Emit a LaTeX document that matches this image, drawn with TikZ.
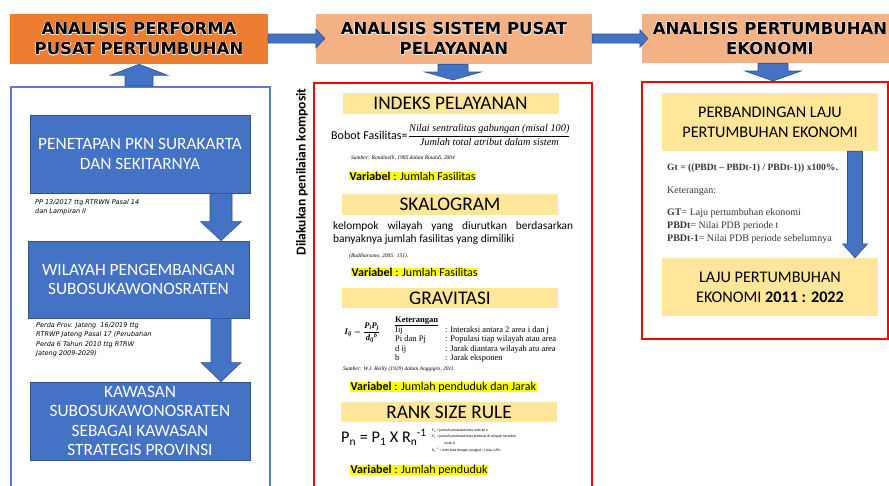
\documentclass[tikz,border=0pt]{standalone}
\usepackage{fontspec}
\usepackage{amsmath}
\usepackage[copies]{contour}
\usetikzlibrary{calc}
\setmainfont{Carlito}
\newfontfamily\hdrfont{DejaVu Sans}
\newfontfamily\timesf{Liberation Serif}
\definecolor{orangeA}{HTML}{ED7D31}
\definecolor{orangeB}{HTML}{F4B183}
\definecolor{blueA}{HTML}{4472C4}
\definecolor{blueB}{HTML}{2F528F}
\definecolor{yellowB}{HTML}{FFE699}
\definecolor{hlyellow}{HTML}{FFFF00}
\definecolor{redA}{HTML}{FF0000}
\definecolor{glow}{HTML}{F5E6DA}
\contourlength{0.4pt}
\contournumber{16}
\newcommand\darr[6]{\path[blk] let \p1=(#2),\p2=(#3) in
  (#1pt-#4pt,\y1) -- (#1pt+#4pt,\y1) -- (#1pt+#4pt,\y2+#6pt) -- (#1pt+#5pt,\y2+#6pt)
  -- (#1pt,\y2) -- (#1pt-#5pt,\y2+#6pt) -- (#1pt-#4pt,\y2+#6pt) -- cycle;}
\newcommand\uarr[6]{\path[blk] let \p1=(#2),\p2=(#3) in
  (#1pt-#4pt,\y1) -- (#1pt+#4pt,\y1) -- (#1pt+#4pt,\y2-#6pt) -- (#1pt+#5pt,\y2-#6pt)
  -- (#1pt,\y2) -- (#1pt-#5pt,\y2-#6pt) -- (#1pt-#4pt,\y2-#6pt) -- cycle;}
\newcommand\rarr[6]{\path[blk] let \p1=(#2),\p2=(#3) in
  (\x1,-#1pt+#4pt) -- (\x2-#6pt,-#1pt+#4pt) -- (\x2-#6pt,-#1pt+#5pt) -- (\x2,-#1pt)
  -- (\x2-#6pt,-#1pt-#5pt) -- (\x2-#6pt,-#1pt-#4pt) -- (\x1,-#1pt-#4pt) -- cycle;}
\newcommand\hdrtxt[1]{\contour{glow}{#1}}
\newcommand\bi[1]{\text{\timesf\bfseries\itshape #1}}
\begin{document}
\begin{tikzpicture}[x=1pt,y=-1pt,
  blk/.style={fill=blueA,draw=blueB,line width=0.6pt},
  hdr/.style={inner sep=0pt,align=center,font=\hdrfont\bfseries\fontsize{16.5}{20}\selectfont},
  bluebox/.style={fill=blueA,draw=blueB,line width=0.8pt,inner sep=0pt,align=center,text=white,font=\fontsize{17.3}{19.5}\selectfont},
  ytitle/.style={fill=yellowB,inner sep=0pt,minimum width=216pt,minimum height=21pt,font=\fontsize{19.3}{21}\selectfont},
  ybox/.style={fill=yellowB,inner sep=0pt,minimum width=216pt,minimum height=58pt,align=center,font=\fontsize{16.2}{20}\selectfont},
  hl/.style={fill=hlyellow,inner xsep=0.5pt,inner ysep=0.2pt,anchor=west,font=\fontsize{12}{13}\selectfont},
  note/.style={anchor=north west,inner sep=0pt,align=left,font=\hdrfont\itshape\fontsize{6.5}{9.6}\selectfont},
  src/.style={anchor=west,inner sep=0pt,font=\timesf\itshape\fontsize{5.5}{6}\selectfont},
  ket/.style={anchor=base west,inner sep=0pt,font=\timesf\fontsize{8.5}{9}\selectfont},
  tiny/.style={anchor=north west,inner sep=0pt,align=left,font=\fontsize{3.7}{6.6}\selectfont},
  gt/.style={anchor=west,inner sep=0pt,text=black!78,font=\timesf\fontsize{10}{11}\selectfont}]
\useasboundingbox (0,0) rectangle (889,485);
\clip (0,0) rectangle (889,485);
\fill[white] (0,0) rectangle (889,485);

% headers
\node[hdr,fill=orangeA,minimum width=258pt,minimum height=50pt] (h1) at (139,39)
  {\hdrtxt{ANALISIS PERFORMA}\\\hdrtxt{PUSAT PERTUMBUHAN}};
\node[hdr,fill=orangeB,minimum width=276pt,minimum height=50pt] (h2) at (454,39)
  {\hdrtxt{ANALISIS SISTEM PUSAT}\\\hdrtxt{PELAYANAN}};
\node[hdr,fill=orangeB,minimum width=256pt,minimum height=49pt] (h3) at (770,38.5)
  {\hdrtxt{ANALISIS PERTUMBUHAN}\\\hdrtxt{EKONOMI}};
\rarr{38.5}{h1.east}{$(h2.west)+(9,0)$}{4.5}{9.5}{9}
\rarr{38.5}{h2.east}{$(h3.west)+(6,0)$}{4.5}{9}{8}

% left column
\node[draw=blueA!90,line width=1.5pt,minimum width=259pt,minimum height=414pt,anchor=north west,inner sep=0pt] (lf) at (10,86) {};
\uarr{139}{lf.north}{h1.south}{14}{28.5}{11}
\node[bluebox,minimum width=220pt,minimum height=78pt] (b1) at (140,154)
  {PENETAPAN PKN SURAKARTA\\DAN SEKITARNYA};
\node[bluebox,minimum width=221pt,minimum height=77pt] (b2) at (138.5,279.5)
  {WILAYAH PENGEMBANGAN\\SUBOSUKAWONOSRATEN};
\node[bluebox,minimum width=220pt,minimum height=78pt] (b3) at (140,421)
  {KAWASAN\\SUBOSUKAWONOSRATEN\\SEBAGAI KAWASAN\\STRATEGIS PROVINSI};
\darr{221}{b1.south}{b2.north}{11}{20.5}{19}
\darr{221}{b2.south}{b3.north}{10}{20}{19}
\node[note] (n1) at (35,199) {PP 13/2017 ttg RTRWN Pasal 14\\dan Lampiran II};
\node[note] (n2) at (36,322) {Perda Prov. Jateng\ \ 16/2019 ttg\\RTRWP Jateng Pasal 17 (Perubahan\\Perda 6 Tahun 2010 ttg RTRW\\Jateng 2009-2029)};

% middle column
\node[draw=redA,line width=2pt,minimum width=278pt,minimum height=420pt,anchor=north west,inner sep=0pt] (mf) at (313,82) {};
\darr{453}{h2.south}{$(mf.north)+(0,-2)$}{15}{28}{8}
\node[rotate=90,inner sep=0pt,font=\bfseries\fontsize{13.6}{15}\selectfont] (vt) at (302,172) {Dilakukan penilaian komposit};

\node[ytitle] (t1) at (450.5,103.5) {INDEKS PELAYANAN};
\node[anchor=west,inner sep=0pt,font=\fontsize{12}{14}\selectfont] (bob) at (331,135) {Bobot Fasilitas=};
\node[anchor=west,inner sep=0pt,font=\timesf\itshape\fontsize{10.3}{12}\selectfont] (frac) at (bob.east)
  {$\dfrac{\text{\timesf\itshape Nilai sentralitas gabungan (misal 100)}}{\text{\timesf\itshape Jumlah total atribut dalam sistem}}$};
\node[src] (s1) at (351,158) {Sumber: Rondinelli, 1985 dalam Rinaldi, 2004};
\node[hl] (v1) at (349,176) {\textbf{Variabel} : Jumlah Fasilitas};

\node[ytitle] (t2) at (450,204.5) {SKALOGRAM};
\node[anchor=north west,inner sep=0pt,text width=240pt,align=justify,font=\fontsize{11.4}{13}\selectfont] (sk) at (333,221)
  {kelompok wilayah yang diurutkan berdasarkan banyaknya jumlah fasilitas yang dimiliki};
\node[src] (s2) at (349,256) {(Budiharsono, 2005: 151).};
\node[hl] (v2) at (351,272) {\textbf{Variabel} : Jumlah Fasilitas};

\node[ytitle,minimum height=20pt] (t3) at (450,298) {GRAVITASI};
\node[inner sep=0pt,font=\timesf\fontsize{8.5}{10}\selectfont] (fg) at (362.5,333)
  {$\bi{I\textsubscript{ij}} = \dfrac{\bi{P\textsubscript{i}P\textsubscript{j}}}{\bi{d\textsubscript{ij}\textsuperscript{b}}}$};
\node[ket,font=\timesf\bfseries\fontsize{8.5}{9}\selectfont] (kt) at (395,322) {\underline{Keterangan}};
\node[ket] (k1) at (395,332) {Iij};
\node[ket] (k2) at (395,341.5) {Pi dan Pj};
\node[ket] (k3) at (395,351) {d ij};
\node[ket] (k4) at (395,360.5) {b};
\node[ket] (k1b) at (445,332) {: Interaksi antara 2 area i dan j};
\node[ket] (k2b) at (445,341.5) {: Populasi tiap wilayah atau area};
\node[ket] (k3b) at (445,351) {: Jarak diantara wilayah atu area};
\node[ket] (k4b) at (445,360.5) {: Jarak eksponen};
\node[src] (s3) at (343,369) {Sumber: W.J. Reilly (1929) dalam Anggigro, 2011.};
\node[hl] (v3) at (350,387) {\textbf{Variabel} : Jumlah penduduk dan Jarak};

\node[ytitle,minimum height=20pt] (t4) at (449,412) {RANK SIZE RULE};
\node[anchor=west,inner sep=0pt,font=\fontsize{16.3}{19}\selectfont] (rf1) at (341,437)
  {P\textsubscript{n} = P\textsubscript{1} X R\textsubscript{n}\kern-0.5pt\textsuperscript{-1}};
\node[tiny] (rn) at (432,428.5)
  {P\textsubscript{n} = jumlah penduduk kota orde ke n\\
   P\textsubscript{1} = jumlah penduduk kota terbesar di wilayah tersebut\\
   \hspace*{12pt}(orde I)\\
   R\textsubscript{n}\textsuperscript{-1} = orde kota dengan pangkat -1 atau 1/Rn};
\node[hl] (v4) at (350,470) {\textbf{Variabel} : Jumlah penduduk};

% right column
\node[draw=redA,line width=2pt,minimum width=246pt,minimum height=257pt,anchor=north west,inner sep=0pt] (rf) at (641,81) {};
\darr{773}{h3.south}{rf.north}{15}{28}{10}
\node[ybox] (pb) at (770,122) {PERBANDINGAN LAJU\\PERTUMBUHAN EKONOMI};
\node[ybox] (lj) at (770,287) {LAJU PERTUMBUHAN\\EKONOMI \textbf{2011 : 2022}};
\darr{855}{pb.south}{lj.north}{7.5}{12.5}{14}
\node[gt,font=\timesf\bfseries\fontsize{9.6}{11}\selectfont] (g1) at (667,168) {Gt = ((PBDt – PBDt-1) / PBDt-1)) x100\%.};
\node[gt] (g2) at (667,191) {Keterangan:};
\node[gt] (g3) at (667,213) {\textbf{GT}= Laju pertumbuhan ekonomi};
\node[gt] (g4) at (667,226) {\textbf{PBDt}= Nilai PDB periode t};
\node[gt] (g5) at (667,239) {\textbf{PBDt-1}= Nilai PDB periode sebelumnya};
\end{tikzpicture}
\end{document}
